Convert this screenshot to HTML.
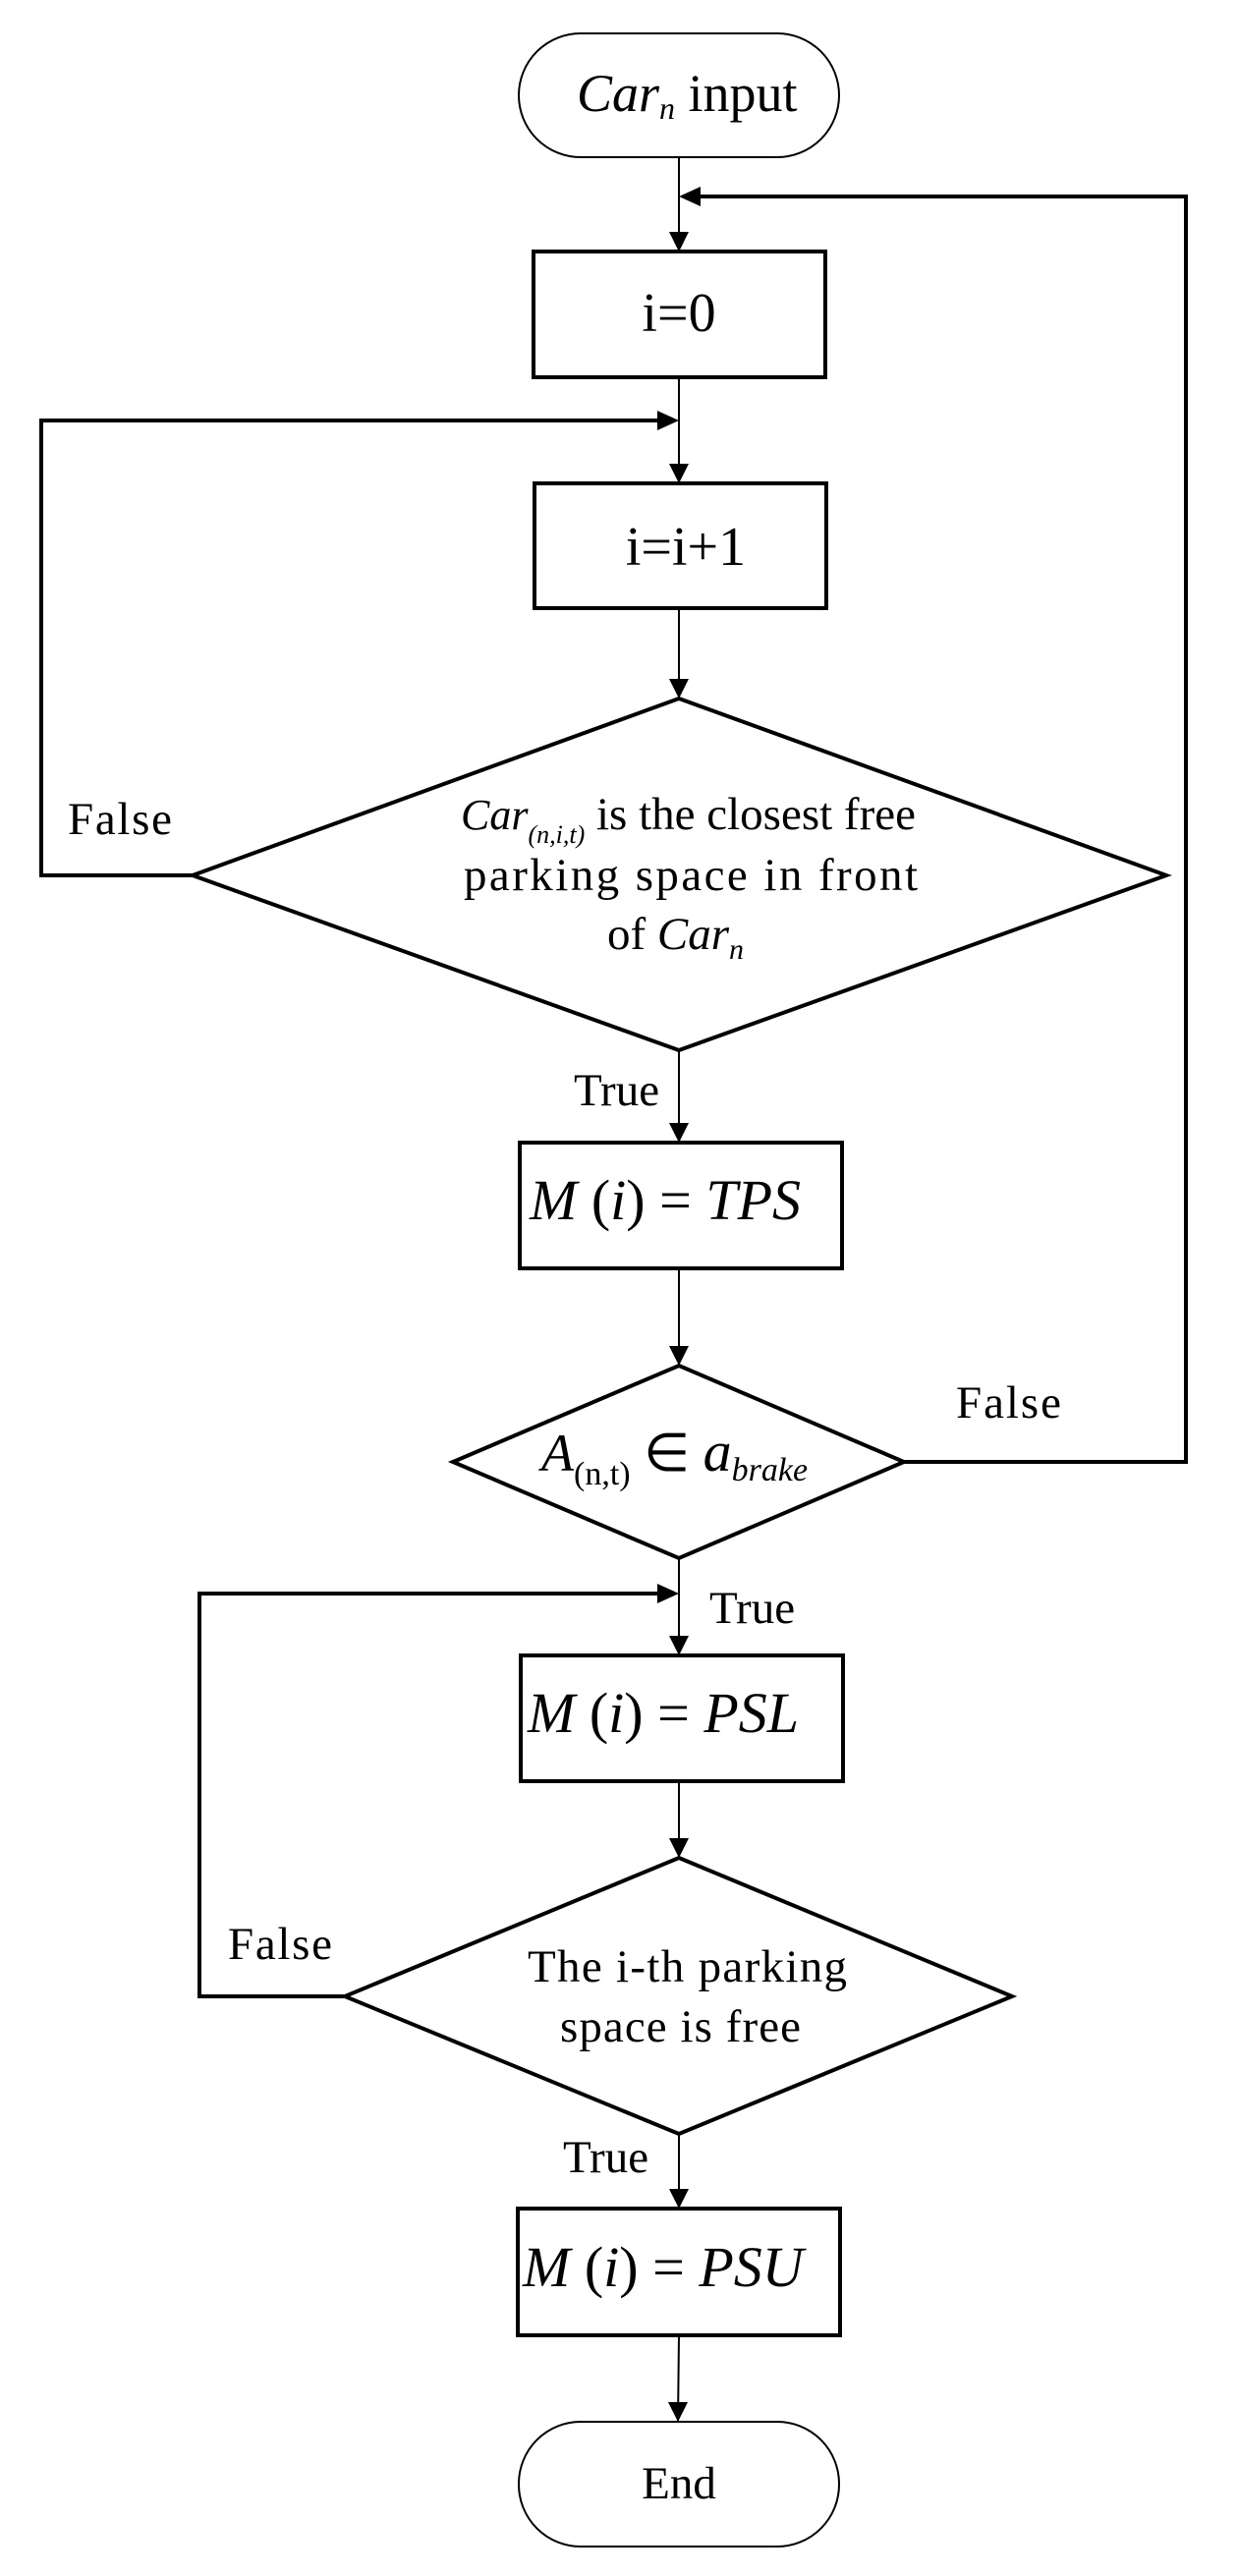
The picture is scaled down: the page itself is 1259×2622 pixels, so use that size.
<!DOCTYPE html>
<html><head><meta charset="utf-8"><style>
html,body{margin:0;padding:0;background:#fff}
svg{display:block}
text{font-family:"Liberation Serif",serif;fill:#000}
.l{font-size:47px}
.it{font-style:italic}
</style></head><body>
<svg width="1259" height="2622" viewBox="0 0 1259 2622" xmlns="http://www.w3.org/2000/svg">
<defs>
<marker id="a" markerWidth="10" markerHeight="10" refX="10" refY="5" orient="auto" markerUnits="userSpaceOnUse" viewBox="0 0 10 10">
<path d="M0,0 L10,5 L0,10 z" fill="#000"/>
</marker>
</defs>
<g fill="none" stroke="#000">
<!-- start / end -->
<rect x="528" y="34" width="326" height="126" rx="63" ry="63" stroke-width="2"/>
<rect x="528" y="2465" width="326" height="127" rx="63" ry="63" stroke-width="2"/>
<!-- boxes -->
<rect x="543" y="256" width="297" height="128" stroke-width="4"/>
<rect x="544" y="492" width="297" height="127" stroke-width="4"/>
<rect x="529" y="1163" width="328" height="128" stroke-width="4"/>
<rect x="530" y="1685" width="328" height="128" stroke-width="4"/>
<rect x="527" y="2248" width="328" height="129" stroke-width="4"/>
<!-- diamonds -->
<polygon points="691,711 1187,891 691,1069 196,891" stroke-width="4"/>
<polygon points="691,1390 920,1488 691,1586 461,1488" stroke-width="4"/>
<polygon points="691,1891 1030,2032 691,2172 351,2032" stroke-width="4"/>
<!-- down connectors -->
<g stroke-width="2">
<line x1="691" y1="160" x2="691" y2="256" marker-end="url(#a)" style="marker-end:url(#a)"/>
<line x1="691" y1="384" x2="691" y2="492"/>
<line x1="691" y1="619" x2="691" y2="711"/>
<line x1="691" y1="1069" x2="691" y2="1163"/>
<line x1="691" y1="1291" x2="691" y2="1390"/>
<line x1="691" y1="1586" x2="691" y2="1685"/>
<line x1="691" y1="1813" x2="691" y2="1891"/>
<line x1="691" y1="2172" x2="691" y2="2248"/>
<line x1="691" y1="2377" x2="690" y2="2465"/>
</g>
<!-- loops -->
<polyline points="920,1488 1207,1488 1207,200 700,200" stroke-width="4"/>
<polyline points="196,891 42,891 42,428 682,428" stroke-width="4"/>
<polyline points="351,2032 203,2032 203,1622 682,1622" stroke-width="4"/>
</g>
<!-- arrowheads -->
<g fill="#000">
<polygon points="681,236 701,236 691,256"/>
<polygon points="681,472 701,472 691,492"/>
<polygon points="681,691 701,691 691,711"/>
<polygon points="681,1143 701,1143 691,1163"/>
<polygon points="681,1370 701,1370 691,1390"/>
<polygon points="681,1665 701,1665 691,1685"/>
<polygon points="681,1871 701,1871 691,1891"/>
<polygon points="681,2228 701,2228 691,2248"/>
<polygon points="680,2445 700,2445 690,2465"/>
<polygon points="691,200 713,190 713,210"/>
<polygon points="691,428 669,418 669,438"/>
<polygon points="691,1622 669,1612 669,1632"/>
</g>
<!-- text -->
<text x="587" y="113" font-size="54"><tspan class="it">Car</tspan><tspan class="it" font-size="32" dy="8">n</tspan><tspan dy="-8"> input</tspan></text>
<text x="691" y="337" font-size="56" text-anchor="middle">i=0</text>
<text x="698" y="575" font-size="56" text-anchor="middle">i=i+1</text>

<text x="469" y="844" font-size="47"><tspan class="it" font-size="44">Car</tspan><tspan class="it" font-size="26" dy="14">(n,i,t)</tspan><tspan dy="-14"> is the closest free</tspan></text>
<text x="472" y="906" font-size="47" textLength="462" lengthAdjust="spacing">parking space in front</text>
<text x="618" y="966" font-size="47">of <tspan class="it">Car</tspan><tspan class="it" font-size="30" dy="10">n</tspan></text>

<text x="539" y="1241" font-size="58"><tspan class="it">M</tspan> (<tspan class="it">i</tspan>) = <tspan class="it">TPS</tspan></text>
<text x="551" y="1497" font-size="54"><tspan class="it">A</tspan><tspan font-size="34" dy="14">(n,t)</tspan><tspan dy="-14"> ∈ </tspan><tspan class="it" font-size="58">a</tspan><tspan class="it" font-size="34" dy="10">brake</tspan></text>
<text x="537" y="1763" font-size="58"><tspan class="it">M</tspan> (<tspan class="it">i</tspan>) = <tspan class="it">PSL</tspan></text>
<text x="537" y="2017" font-size="47" textLength="325" lengthAdjust="spacing">The i-th parking</text>
<text x="570" y="2078" font-size="47" textLength="245" lengthAdjust="spacing">space is free</text>
<text x="532" y="2327" font-size="58"><tspan class="it">M</tspan> (<tspan class="it">i</tspan>) = <tspan class="it">PSU</tspan></text>
<text x="691" y="2543" font-size="47" text-anchor="middle">End</text>

<text class="l" x="69" y="849" textLength="106" lengthAdjust="spacing">False</text>
<text class="l" x="973" y="1443" textLength="107" lengthAdjust="spacing">False</text>
<text class="l" x="232" y="1994" textLength="106" lengthAdjust="spacing">False</text>
<text class="l" x="584" y="1125">True</text>
<text class="l" x="722" y="1652">True</text>
<text class="l" x="573" y="2211">True</text>
</svg>
</body></html>
